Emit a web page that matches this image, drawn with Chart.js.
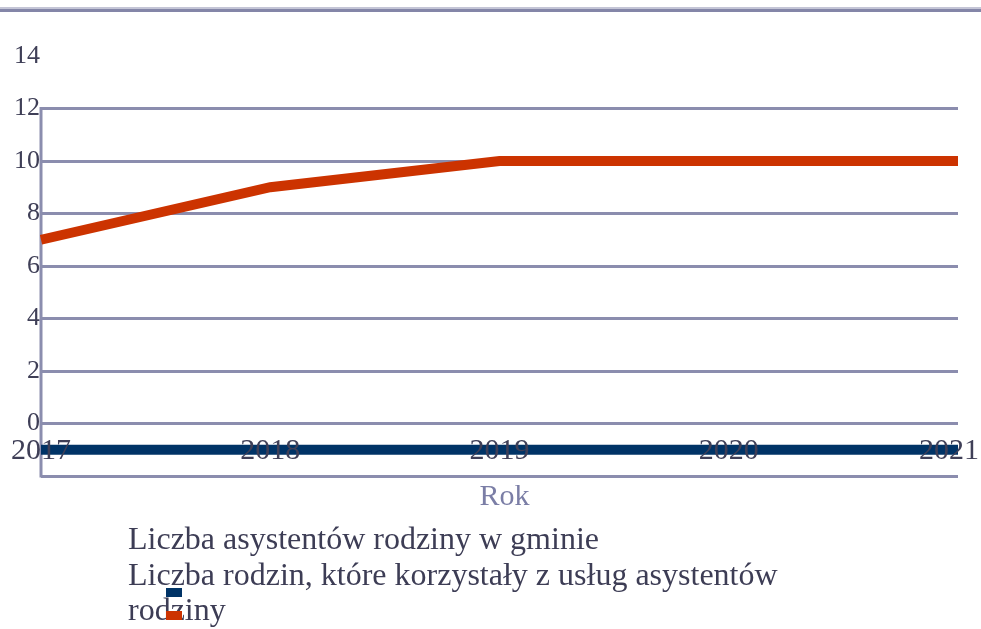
<!DOCTYPE html>
<html>
<head>
<meta charset="utf-8">
<script src="https://cdn.jsdelivr.net/npm/chart.js@4"></script>
<style>
  html, body { margin: 0; padding: 0; background: #fff; }
  #wrap { width: 981px; height: 629px; position: relative; }
</style>
</head>
<body>
<div id="wrap"><canvas id="c"></canvas></div>
<script>
// Years on the horizontal axis
const years = ['2017', '2018', '2019', '2020', '2021'];
// Series values
const asystenci = [-1, -1, -1, -1, -1];
const rodziny = [7, 9, 10, 10, 10];
// Legend labels
const seriesNames = [
  'Liczba asystentów rodziny w gminie',
  'Liczba rodzin, które korzystały z usług asystentów rodziny'
];
const axisTitle = 'Rok';

const SERIF = '"Liberation Serif", "Times New Roman", serif';
const GRID = '#8b8dae';
const TEXT = '#3f3f57';

// Decorations: top rule, left axis line, x labels, axis title and legend
const decor = {
  id: 'decor',
  beforeDraw(chart) {
    const c = chart.ctx;
    c.save();
    c.fillStyle = '#c4c5d6';
    c.fillRect(0, 7, chart.width, 2);
    c.fillStyle = '#8486a8';
    c.fillRect(0, 9, chart.width, 3);
    c.restore();
  },
  beforeDatasetsDraw(chart) {
    const c = chart.ctx, y = chart.scales.y, x = chart.scales.x;
    c.save();
    c.strokeStyle = GRID;
    c.lineWidth = 3;
    c.beginPath();
    const lx = x.getPixelForValue(0);
    c.moveTo(lx, y.getPixelForValue(12) - 1.5);
    c.lineTo(lx, y.getPixelForValue(-2) + 1.5);
    c.stroke();
    c.restore();
  },
  afterDatasetsDraw(chart) {
    const c = chart.ctx, x = chart.scales.x, area = chart.chartArea;
    c.save();
    // x tick labels
    c.font = '30px ' + SERIF;
    c.fillStyle = TEXT;
    c.textAlign = 'center';
    c.textBaseline = 'middle';
    years.forEach((yr, i) => {
      const w = c.measureText(yr).width;
      let px = x.getPixelForValue(i);
      px = Math.max(w / 2 + 10, Math.min(px, chart.width - w / 2 - 2));
      c.fillText(yr, px, 451);
    });
    // axis title
    c.fillStyle = '#7b7ea6';
    c.fillText(axisTitle, (area.left + area.right) / 2 + 5, 497);
    // legend
    c.font = '32px ' + SERIF;
    c.fillStyle = '#3d3d55';
    c.textAlign = 'left';
    c.fillText(seriesNames[0], 128, 541);
    c.fillText('Liczba rodzin, które korzystały z usług asystentów', 128, 577);
    c.fillText('rodziny', 128, 612);
    chart.data.datasets.forEach((ds, i) => {
      c.fillStyle = ds.borderColor;
      c.fillRect(166, i === 0 ? 588 : 611, 16, 9);
    });
    c.restore();
  }
};

new Chart(document.getElementById('c'), {
  type: 'line',
  data: {
    labels: years,
    datasets: [
      { label: seriesNames[0], data: asystenci, borderColor: '#003366', backgroundColor: '#003366',
        borderWidth: 10, pointRadius: 0, tension: 0 },
      { label: seriesNames[1], data: rodziny, borderColor: '#cc3300', backgroundColor: '#cc3300',
        borderWidth: 10, pointRadius: 0, tension: 0 }
    ]
  },
  options: {
    responsive: true,
    maintainAspectRatio: false,
    animation: false,
    layout: { padding: { top: 56, bottom: 153, left: 0, right: 23 } },
    plugins: { legend: { display: false }, tooltip: { enabled: false } },
    scales: {
      x: { display: false, offset: false },
      y: {
        min: -2, max: 14,
        afterFit(s) { s.width = 41; },
        border: { display: false },
        grid: {
          drawTicks: false,
          lineWidth: 3,
          color: ctx => (ctx.tick && ctx.tick.value === 14) ? 'rgba(0,0,0,0)' : GRID
        },
        ticks: {
          stepSize: 2,
          padding: 1,
          color: TEXT,
          font: { family: SERIF, size: 26 },
          callback: v => (v < 0 ? '' : v)
        }
      }
    }
  },
  plugins: [decor]
});
</script>
</body>
</html>
